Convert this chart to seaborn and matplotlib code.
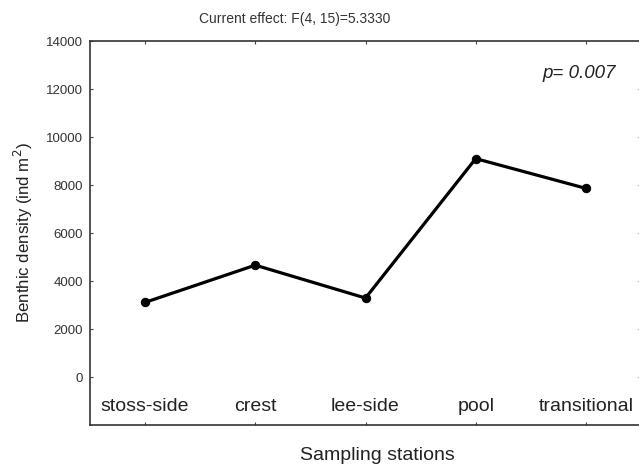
import matplotlib
matplotlib.use("Agg")
import matplotlib.pyplot as plt
import seaborn as sns
import pandas as pd

stations = ["stoss-side", "crest", "lee-side", "pool", "transitional"]
density = [3110, 4660, 3290, 9100, 7860]
yticks = [0, 2000, 4000, 6000, 8000, 10000, 12000, 14000]

sns.set_style("white")
plt.rcParams['font.family'] = ['Liberation Sans', 'DejaVu Sans']

df = pd.DataFrame({"x": range(len(stations)), "y": density})

W, H = 639, 470
fig = plt.figure(figsize=(W/100, H/100), dpi=100)
ax = fig.add_axes([90/W, 1-425/H, (641-90)/W, (425-41)/H])

sns.lineplot(data=df, x="x", y="y", ax=ax, color="black", linewidth=2.3,
             marker="o", markersize=6, markeredgecolor="black")

ax.set_xlim(-0.5, 4.5)
ax.set_ylim(-2000, 14000)
ax.set_yticks(yticks)
ax.set_yticklabels([str(v) for v in yticks], fontsize=9.5, color="#333333")
ax.set_xticks(range(len(stations)))
ax.set_xticklabels([])
ax.tick_params(axis="both", direction="in", length=2, width=0.8, color="#444444",
               top=True, right=True, bottom=True, left=True, pad=5)
for s in ["left", "bottom", "top"]:
    ax.spines[s].set_visible(True)
    ax.spines[s].set_color("#333333")
    ax.spines[s].set_linewidth(1.2)
ax.spines["right"].set_visible(False)

for i, name in enumerate(stations):
    ax.text(i, -1230, name, ha="center", va="center", fontsize=14, color="#222222")

ax.text(0.955, 0.915, "p= 0.007", transform=ax.transAxes, ha="right", va="center",
        fontsize=13.5, style="italic", color="#222222")

ax.set_xlabel("Sampling stations", fontsize=14, color="#222222")
ax.xaxis.set_label_coords((377-90)/(641-90), -0.057)
ax.set_ylabel("Benthic density (ind m$^{2}$)", fontsize=12.2, color="#222222", labelpad=8)

fig.text(295/W, 1-19/H, "Current effect: F(4, 15)=5.3330", ha="center", va="center",
         fontsize=10, color="#333333")

fig.savefig("out.png", dpi=100)
